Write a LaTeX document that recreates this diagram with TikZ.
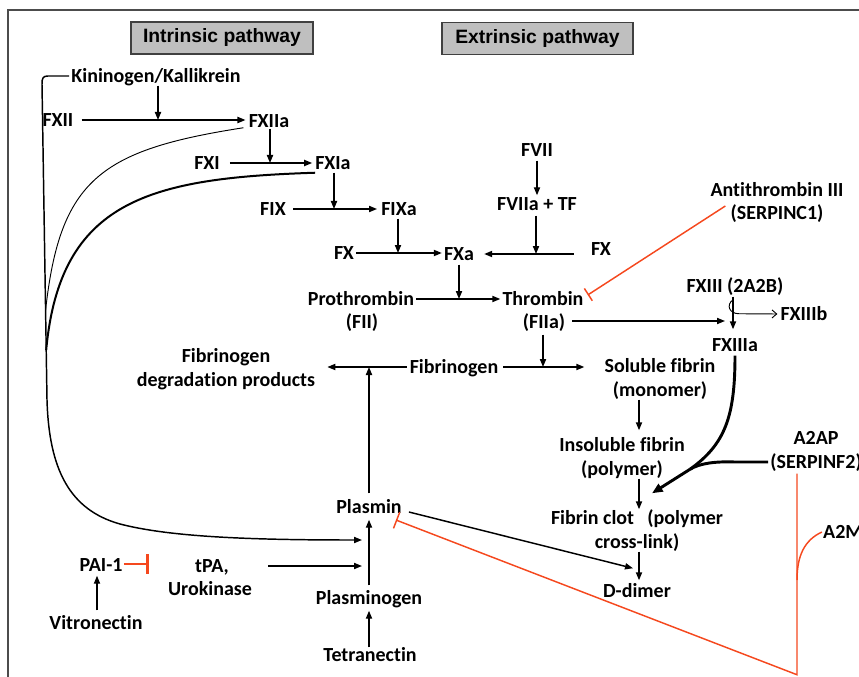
\documentclass[tikz,border=0pt]{standalone}
\usepackage{fontspec}
\setmainfont{Carlito}[Ligatures=NoCommon]
\newfontfamily\hdrfont{Liberation Sans}
\usetikzlibrary{arrows.meta,calc}
\definecolor{inh}{RGB}{245,72,30}
\definecolor{hdrfill}{RGB}{191,191,191}
\begin{document}
\begin{tikzpicture}[x=0.75pt,y=-0.75pt,
  lbl/.style={font=\bfseries\fontsize{15}{18}\selectfont, inner sep=0pt, text height=9.7pt, text depth=0pt},
  hdr/.style={draw=black!75, line width=1.1pt, fill=hdrfill, font=\hdrfont\bfseries\fontsize{14.5}{17}\selectfont, inner sep=0pt, minimum height=24pt},
  arr/.style={line width=1.1pt, -{Triangle[length=6pt,width=4.6pt]}},
  thinarr/.style={line width=0.7pt, -{Straight Barb[length=3.5pt,width=6pt]}},
  link/.style={line width=1.2pt},
  thinlink/.style={line width=0.7pt},
  thicklink/.style={line width=1.5pt},
  heavy/.style={line width=2.2pt},
  block/.style={draw=inh, line width=1.1pt, -{Bar[width=11pt,line width=1.1pt]}},
  frame/.style={draw=black!70, line width=1.5pt}
]
\useasboundingbox (0,0) rectangle (859,677);
\draw[frame] (8,677) -- (8,10) -- (859,10);

% headers
\node[hdr, minimum width=136.5pt] (intr) at (222,38) {Intrinsic pathway};
\node[hdr, minimum width=143.25pt] (extr) at (537.5,38.5) {Extrinsic pathway};

% labels
\node[lbl] (kin) at (156,76) {Kininogen/Kallikrein};
\node[lbl] (fxii) at (58,120) {FXII};
\node[lbl] (fxiia) at (269,121) {FXIIa};
\node[lbl] (fxi) at (207,163) {FXI};
\node[lbl] (fxia) at (333,163) {FXIa};
\node[lbl] (fix) at (273,209) {FIX};
\node[lbl] (fixa) at (399,209) {FIXa};
\node[lbl] (fx) at (344,253) {FX};
\node[lbl] (fxa) at (459,254) {FXa};
\node[lbl] (fvii) at (537,150) {FVII};
\node[lbl] (fviiatf) at (537,204) {FVIIa + TF};
\node[lbl] (fxr) at (601,249) {FX};
\node[lbl] (at3) at (777,190) {Antithrombin III};
\node[lbl] (at3b) at (777,213) {(SERPINC1)};
\node[lbl] (proth) at (361,299) {Prothrombin};
\node[lbl] (proth2) at (362,322) {(FII)};
\node[lbl] (thr) at (543,299) {Thrombin};
\node[lbl] (thr2) at (544,322) {(FIIa)};
\node[lbl] (fxiii) at (735,286) {FXIII (2A2B)};
\node[lbl] (fxiiib) at (804,314) {FXIIIb};
\node[lbl] (fxiiia) at (735,345) {FXIIIa};
\node[lbl] (fdp) at (226,356) {Fibrinogen};
\node[lbl] (fdp2) at (226,380) {degradation products};
\node[lbl] (fbg) at (454,367) {Fibrinogen};
\node[lbl] (sfib) at (660,366) {Soluble fibrin};
\node[lbl] (sfib2) at (660,390) {(monomer)};
\node[lbl] (ifib) at (622,445) {Insoluble fibrin};
\node[lbl] (ifib2) at (622,469) {(polymer)};
\node[lbl] (clot) at (637,518) {Fibrin clot\hspace{10pt}(polymer};
\node[lbl] (clot2) at (637,542) {cross-link)};
\node[lbl] (ddim) at (637,591) {D-dimer};
\node[lbl] (a2ap) at (816,438) {A2AP};
\node[lbl] (a2ap2) at (816,462) {(SERPINF2)};
\node[lbl] (a2m) at (843,532) {A2M};
\node[lbl] (plasmin) at (369,507) {Plasmin};
\node[lbl] (pai) at (101,565) {PAI-1};
\node[lbl] (vitro) at (96,623) {Vitronectin};
\node[lbl] (tpa) at (212,566) {tPA,};
\node[lbl] (tpa2) at (210,589) {Urokinase};
\node[lbl] (plg) at (369,598) {Plasminogen};
\node[lbl] (tetra) at (370,655) {Tetranectin};

% coagulation cascade
\draw[arr] ($(kin.south)+(2,3)$) -- ($(kin.south |- fxii)+(2,0)$);
\draw[arr] ($(fxii.east)+(8,0)$) -- ($(fxiia.west |- fxii.east)+(-3,0)$);
\draw[arr] ($(fxiia.south)+(1,1)$) -- ($(fxiia.south |- fxi)+(1,0)$);
\draw[arr] ($(fxi.east)+(10,0)$) -- ($(fxia.west |- fxi.east)+(-3,0)$);
\draw[arr] ($(fxia.south)+(1,3)$) -- ($(fxia.south |- fix)+(1,0)$);
\draw[arr] ($(fix.east)+(7,0)$) -- ($(fixa.west |- fix.east)+(-4,0)$);
\draw[arr] ($(fixa.south)+(-1,3)$) -- ($(fixa.south |- fx)+(-1,0)$);
\draw[arr] ($(fx.east)+(2,0)$) -- ($(fxa.west |- fx.east)+(-2,0)$);
\draw[arr] ($(fvii.south)+(0,4)$) -- ($(fviiatf.north)+(0,-2)$);
\draw[arr] ($(fviiatf.south)+(-1,5)$) -- ($(fviiatf.south |- fxa)+(-1,0)$);
\draw[arr] ($(fxr.west |- fxa)+(-17,0)$) -- ($(fxa.east)+(10,0)$);
\draw[arr] ($(fxa.south)+(0,4)$) -- (fxa.south |- proth);
\draw[arr] ($(proth.east)+(2,0)$) -- ($(thr.west |- proth.east)+(-2,0)$);
\draw[arr] ($(thr2.east)+(7,-1)$) -- ($(fxiii.south |- thr2)+(-10,-1)$);
\draw[arr] ($(fxiii.south)+(-2,4)$) -- ($(fxiiia.north)+(-2,-9)$);
\draw[thinarr] ($(fxiii.south)+(-2,7)$) .. controls ($(fxiii.south)+(-9,12)$) and ($(fxiii.south)+(-6,21)$) .. ($(fxiii.south)+(4,21)$) -- ($(fxiiib.west)+(-3,0)$);
\draw[arr] ($(thr2.south)+(-1,6)$) -- ($(thr2.south |- fbg)+(-1,0)$);
\draw[arr] ($(fbg.east)+(5,0)$) -- ($(sfib.west |- fbg)+(-20,0)$);
\draw[arr] ($(fbg.west)+(-3,0)$) -- ($(fdp2.east |- fbg)+(12,0)$);
\draw[arr] ($(plasmin.north)+(0,-7)$) -- (plasmin.north |- fbg);
\draw[arr] ($(ddim.north |- sfib2.south)+(2,3)$) -- ($(ddim.north |- ifib.north)+(2,-8)$);
\draw[arr] ($(ddim.north |- ifib2.south)+(2,3)$) -- ($(ddim.north |- clot.north)+(2,-2)$);
\draw[arr] ($(clot2.south)+(2,3)$) -- ($(ddim.north)+(2,-4)$);
\draw[arr] ($(plasmin.east)+(7,5)$) -- ($(ddim.north)+(-4,-16)$);

% FXIIIa and A2AP to fibrin clot
\coordinate (merge) at ($(clot.north)+(53,-42)$);
\draw[heavy] ($(fxiiia.south)+(0,4)$) .. controls ($(fxiiia.south)+(0,65)$) and ($(merge)+(35,-25)$) .. (merge);
\draw[heavy] ($(a2ap2.west)+(-2,0)$) -- ($(fxiiia.south |- a2ap2.west)$) .. controls ($(merge)+(25,-8)$) and ($(merge)+(10,-6)$) .. (merge);
\draw[heavy, -{Triangle[length=8pt,width=6.5pt]}] (merge) -- ($(clot.north)+(15,-18)$);

% fibrinolysis
\draw[arr] ($(vitro.north)+(1,-6)$) -- ($(pai.south)+(-4,4)$);
\draw[arr] ($(tpa.east)+(39,0)$) -- ($(plasmin.south |- tpa)+(-7,0)$);
\draw[arr] ($(plg.north)+(0,-6)$) -- ($(plasmin.south)+(0,6)$);
\draw[arr] ($(tetra.north)+(-1,-1)$) -- ($(plg.south)+(0,6)$);

% contact pathway to plasmin
\coordinate (lc) at (42,84);
\coordinate (lb) at (47,400);
\draw[link, arr] ($(kin.west)+(-2,0)$) -- (48,76) .. controls (43,76) and (42,78) .. (lc) -- (lb)
  .. controls (49,470) and (70,510) .. (120,524)
  .. controls (170,537) and (250,540) .. ($(plasmin.south |- tpa)+(-7,-26)$);
\draw[thinlink] ($(fxiia.south west)+(-5,0)$) .. controls (100,150) and (60,180) .. (45.6,310);
\draw[thicklink] ($(fxia.south west)+(0,3)$) .. controls (150,178) and (60,200) .. (46.2,350);

% inhibitors
\draw[block] ($(at3b.west)+(-5,-7)$) -- ($(thr.east)+(4,-4)$);
\draw[draw=inh, line width=2.2pt, -{Bar[width=15pt,line width=2.2pt]}] ($(pai.east)+(1,-1)$) -- ($(pai.east)+(26,-1)$);
\coordinate (rb) at ($(a2ap2.south)+(-19,206)$);
\draw[block, -{Bar[width=13pt,line width=1.1pt]}] ($(a2ap2.south)+(-19,5)$) -- (rb) -- ($(plasmin.east)+(-6,13)$);
\draw[draw=inh, line width=1.1pt] ($(a2m.west)+(-1,0)$) .. controls ($(a2m.west)+(-18,8)$) and ($(a2ap2.south |- a2m.west)+(-19,23)$) .. ($(a2ap2.south |- a2m.west)+(-19,48)$);
\end{tikzpicture}
\end{document}
